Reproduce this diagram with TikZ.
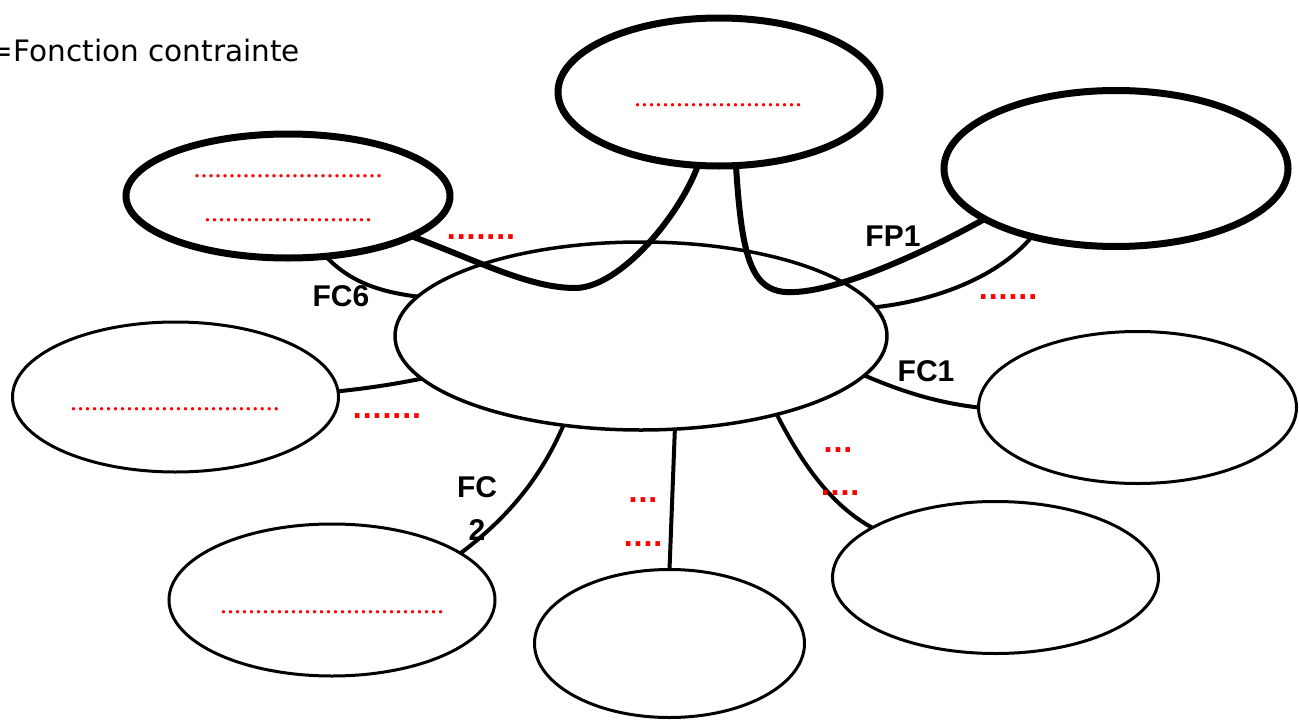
\documentclass[tikz,border=0pt]{standalone}
\usepackage{fontspec}
\setmainfont{Liberation Sans}
\newfontfamily\dvs{DejaVu Sans}
\newfontfamily\lserif{Liberation Serif}
\usetikzlibrary{shapes.geometric}
\begin{document}
\begin{tikzpicture}[x=1pt,y=-1pt,
  elli/.style={draw,ellipse,inner sep=0pt,outer sep=0pt,line width=3pt},
  thickelli/.style={elli,line width=7pt},
  conn/.style={line width=4pt},
  thickconn/.style={line width=6pt},
  lab/.style={inner sep=0pt,font=\fontsize{30}{32}\selectfont\bfseries},
  rdots/.style={inner sep=0pt,text=red,font=\lserif\fontsize{28}{28}\selectfont},
  sdots/.style={inner sep=0pt,text=red,font=\dvs\bfseries\fontsize{26}{26}\selectfont}]
\useasboundingbox (0,0) rectangle (1299,720);
\fill[white] (0,0) rectangle (1299,720);

\node[anchor=base east,inner sep=0pt,font=\dvs\fontsize{29.5}{32}\selectfont] (title) at (300,61) {=Fonction contrainte};

% ellipses
\node[thickelli,minimum width=322pt,minimum height=148pt] (T) at (719,92) {};
\node[thickelli,minimum width=344pt,minimum height=156pt] (TR) at (1116,168.5) {};
\node[thickelli,minimum width=324pt,minimum height=124pt] (TL) at (288,196) {};
\node[elli,line width=3.5pt,minimum width=492pt,minimum height=188pt] (C) at (641,336) {};
\node[elli,minimum width=326pt,minimum height=150pt] (L) at (175.5,397) {};
\node[elli,minimum width=318pt,minimum height=152pt] (R) at (1137.5,407.5) {};
\node[elli,minimum width=326pt,minimum height=152pt] (BL) at (332,600) {};
\node[elli,minimum width=270pt,minimum height=148pt] (BC) at (669.5,643.5) {};
\node[elli,minimum width=326pt,minimum height=152pt] (BR) at (995.5,577.5) {};

% connectors
\draw[thickconn] (TL.-18) .. controls (480,262) and (530,288) .. (575,288)
   .. controls (620,288) and (680,215) .. (T.254);
\draw[thickconn] (T.-77) .. controls (742,262) and (752,295) .. (795,292)
   .. controls (840,290) and (920,255) .. (TR.201);
\draw[conn] (TL.-58) .. controls (350,282) and (380,292) .. (C.170);
\draw[conn] (TR.219) .. controls (1000,275) and (940,300) .. (C.7);
\draw[conn] (L.2) .. controls (370,388) and (395,384) .. (C.191);
\draw[conn] (C.-10) .. controls (905,393) and (940,403) .. (R.180);
\draw[conn] (C.229) .. controls (540,480) and (505,520) .. (BL.20);
\draw[conn] (C.-70) -- (BC.90);
\draw[conn] (C.-30) .. controls (800,460) and (830,505) .. (BR.158);

% labels
\node[lab] (fp1) at (893,236) {FP1};
\node[lab] (fc6) at (341,296) {FC6};
\node[lab] (fc1) at (926,371) {FC1};
\node[lab] (fc2a) at (477,487) {FC};
\node[lab] (fc2b) at (477,530) {2};

% red round dots
\node[rdots] (dT) at (718,105) {........................};
\node[rdots] (dTL1) at (288,176) {...........................};
\node[rdots] (dTL2) at (288,220) {........................};
\node[rdots] (dL) at (175,409) {..............................};
\node[rdots] (dBL) at (332,612) {................................};

% red square dots
\node[sdots] (s1) at (481,237) {.......};
\node[sdots] (s2) at (1008,297) {......};
\node[sdots] (s3) at (387,416) {.......};
\node[sdots] (s4) at (643,500) {...};
\node[sdots] (s5) at (643,544) {....};
\node[sdots] (s6) at (838,450) {...};
\node[sdots] (s7) at (840,493) {....};
\end{tikzpicture}
\end{document}
